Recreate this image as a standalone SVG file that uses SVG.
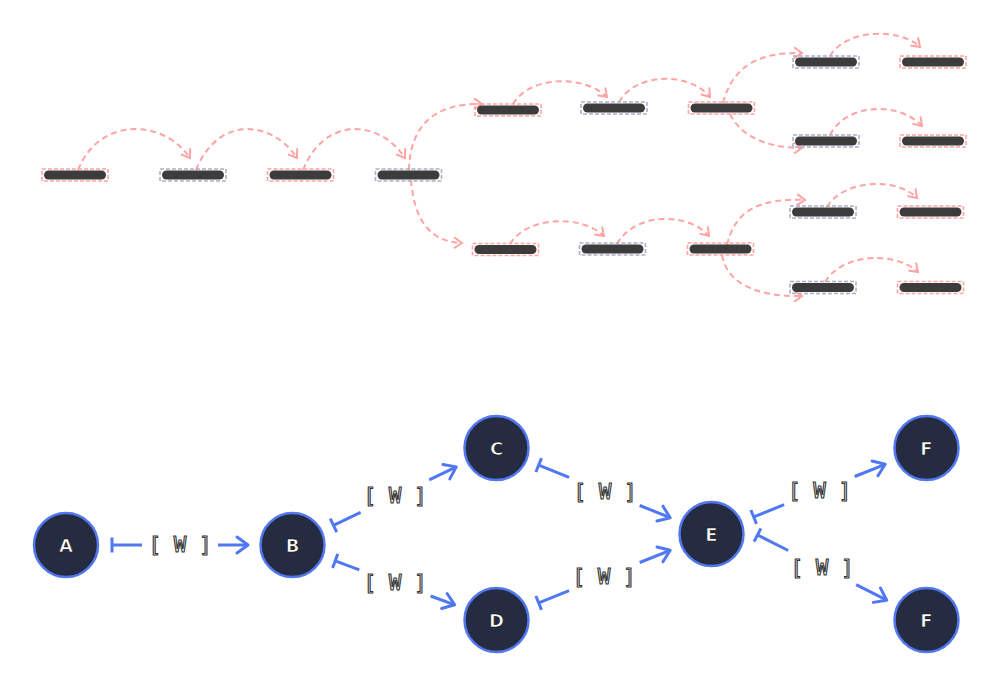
<svg xmlns="http://www.w3.org/2000/svg" width="1000" height="685" viewBox="0 0 1000 685">
<style>
.bar{fill:#3c3c3c}
.bo-r{fill:none;stroke:#ffa3a3;stroke-width:1.6;stroke-dasharray:4 2}
.bo-g{fill:none;stroke:#aab0c8;stroke-width:1.6;stroke-dasharray:4 2}
.lk{fill:none;stroke:#ffa3a3;stroke-width:2;stroke-dasharray:6 4;marker-end:url(#pa)}
.nd{fill:#252b40;stroke:#5277ee;stroke-width:2.5}
.nl{font-family:"DejaVu Sans",sans-serif;font-weight:bold;font-size:18px;fill:#fff;stroke:#111;stroke-width:0.7;text-anchor:middle;dominant-baseline:central}
.e{fill:none;stroke:#5078f2;stroke-width:3}
.lb{font-family:"DejaVu Sans Mono",monospace;font-size:21px;fill:#fff;stroke:#333;stroke-width:1.1;text-anchor:middle;dominant-baseline:central}
</style>
<defs>
<marker id="pa" markerUnits="userSpaceOnUse" markerWidth="20" markerHeight="20" refX="10" refY="10" orient="auto" overflow="visible">
<path d="M2,4.5 L10,10 L2,15.5" fill="none" stroke="#ffa3a3" stroke-width="2"/>
</marker>
<marker id="ba" markerUnits="userSpaceOnUse" markerWidth="24" markerHeight="24" refX="12" refY="12" orient="auto" overflow="visible">
<path d="M1,4 L12,12 L1,20" fill="none" stroke="#5078f2" stroke-width="3" stroke-linecap="round" stroke-linejoin="round"/>
</marker>
<marker id="bt" markerUnits="userSpaceOnUse" markerWidth="24" markerHeight="24" refX="12" refY="12" orient="auto" overflow="visible">
<path d="M12,4.5 L12,19.5" fill="none" stroke="#5078f2" stroke-width="3"/>
</marker>
</defs>
<rect width="1000" height="685" fill="#fff"/>

<g id="connectors-top">
<path class="lk" d="M78,170 C100,115 165,120 190,158"/>
<path class="lk" d="M196,170 C218,115 272,120 297,158"/>
<path class="lk" d="M303,170 C325,115 380,120 405,158"/>
<path class="lk" d="M409,170 C410,125 435,103 482,104"/>
<path class="lk" d="M411,180 C414,220 430,242 462,243"/>
<path class="lk" d="M513,104 C530,75 585,75 607,97"/>
<path class="lk" d="M619,102 C636,72 690,72 710,97"/>
<path class="lk" d="M723,103 C733,65 760,52 802,53"/>
<path class="lk" d="M730,114 C740,135 765,148 802,148"/>
<path class="lk" d="M830,56 C847,28 900,28 920,47"/>
<path class="lk" d="M830,135 C847,102 900,102 922,126"/>
<path class="lk" d="M510,244 C528,215 582,215 604,236"/>
<path class="lk" d="M617,244 C635,212 688,212 709,236"/>
<path class="lk" d="M727,245 C735,210 760,198 805,200"/>
<path class="lk" d="M722,255 C727,285 760,297 802,296"/>
<path class="lk" d="M827,207 C845,178 898,178 917,198"/>
<path class="lk" d="M825,282 C843,252 897,252 918,272"/>
</g>

<g id="bar1" transform="translate(75,175)"><rect class="bar" x="-31" y="-4.5" width="62" height="9" rx="4.5"/><rect class="bo-r" x="-33" y="-6" width="66" height="12"/></g>
<g id="bar2" transform="translate(193,175)"><rect class="bar" x="-31" y="-4.5" width="62" height="9" rx="4.5"/><rect class="bo-g" x="-33" y="-6" width="66" height="12"/></g>
<g id="bar3" transform="translate(300.5,175)"><rect class="bar" x="-31" y="-4.5" width="62" height="9" rx="4.5"/><rect class="bo-r" x="-33" y="-6" width="66" height="12"/></g>
<g id="bar4" transform="translate(408.5,175)"><rect class="bar" x="-31" y="-4.5" width="62" height="9" rx="4.5"/><rect class="bo-g" x="-33" y="-6" width="66" height="12"/></g>
<g id="bar5" transform="translate(508,110)"><rect class="bar" x="-31" y="-4.5" width="62" height="9" rx="4.5"/><rect class="bo-r" x="-33" y="-6" width="66" height="12"/></g>
<g id="bar6" transform="translate(614,108)"><rect class="bar" x="-31" y="-4.5" width="62" height="9" rx="4.5"/><rect class="bo-g" x="-33" y="-6" width="66" height="12"/></g>
<g id="bar7" transform="translate(721.5,108)"><rect class="bar" x="-31" y="-4.5" width="62" height="9" rx="4.5"/><rect class="bo-r" x="-33" y="-6" width="66" height="12"/></g>
<g id="bar8" transform="translate(826,62)"><rect class="bar" x="-31" y="-4.5" width="62" height="9" rx="4.5"/><rect class="bo-g" x="-33" y="-6" width="66" height="12"/></g>
<g id="bar9" transform="translate(933,62)"><rect class="bar" x="-31" y="-4.5" width="62" height="9" rx="4.5"/><rect class="bo-r" x="-33" y="-6" width="66" height="12"/></g>
<g id="bar10" transform="translate(826,141)"><rect class="bar" x="-31" y="-4.5" width="62" height="9" rx="4.5"/><rect class="bo-g" x="-33" y="-6" width="66" height="12"/></g>
<g id="bar11" transform="translate(933,141)"><rect class="bar" x="-31" y="-4.5" width="62" height="9" rx="4.5"/><rect class="bo-r" x="-33" y="-6" width="66" height="12"/></g>
<g id="bar12" transform="translate(505.5,249.5)"><rect class="bar" x="-31" y="-4.5" width="62" height="9" rx="4.5"/><rect class="bo-r" x="-33" y="-6" width="66" height="12"/></g>
<g id="bar13" transform="translate(612.5,249)"><rect class="bar" x="-31" y="-4.5" width="62" height="9" rx="4.5"/><rect class="bo-g" x="-33" y="-6" width="66" height="12"/></g>
<g id="bar14" transform="translate(720.5,249)"><rect class="bar" x="-31" y="-4.5" width="62" height="9" rx="4.5"/><rect class="bo-r" x="-33" y="-6" width="66" height="12"/></g>
<g id="bar15" transform="translate(823,212)"><rect class="bar" x="-31" y="-4.5" width="62" height="9" rx="4.5"/><rect class="bo-g" x="-33" y="-6" width="66" height="12"/></g>
<g id="bar16" transform="translate(930.5,212)"><rect class="bar" x="-31" y="-4.5" width="62" height="9" rx="4.5"/><rect class="bo-r" x="-33" y="-6" width="66" height="12"/></g>
<g id="bar17" transform="translate(823,287.5)"><rect class="bar" x="-31" y="-4.5" width="62" height="9" rx="4.5"/><rect class="bo-g" x="-33" y="-6" width="66" height="12"/></g>
<g id="bar18" transform="translate(930.5,287.5)"><rect class="bar" x="-31" y="-4.5" width="62" height="9" rx="4.5"/><rect class="bo-r" x="-33" y="-6" width="66" height="12"/></g>

<g id="connectors">
<path class="e" d="M112,545 L142,545" marker-start="url(#bt)"/>
<path class="e" d="M218,545 L248,545" marker-end="url(#ba)"/>
<text class="lb" x="180" y="545">[ W ]</text>

<path class="e" d="M333.5,525.3 L360.6,512.4" marker-start="url(#bt)"/>
<path class="e" d="M429.2,479.8 L456.3,466.9" marker-end="url(#ba)"/>
<text class="lb" x="395" y="496">[ W ]</text>

<path class="e" d="M335.2,560.9 L359.3,569.8" marker-start="url(#bt)"/>
<path class="e" d="M430.6,596.0 L454.7,604.8" marker-end="url(#ba)"/>
<text class="lb" x="395" y="582.5">[ W ]</text>

<path class="e" d="M538.7,465.1 L569.1,477.3" marker-start="url(#bt)"/>
<path class="e" d="M639.7,505.5 L670.2,517.7" marker-end="url(#ba)"/>
<text class="lb" x="605" y="492">[ W ]</text>

<path class="e" d="M538.7,602.9 L569.1,590.7" marker-start="url(#bt)"/>
<path class="e" d="M639.7,562.5 L670.2,550.3" marker-end="url(#ba)"/>
<text class="lb" x="604" y="577">[ W ]</text>

<path class="e" d="M753.7,516.9 L784.1,504.7" marker-start="url(#bt)"/>
<path class="e" d="M854.7,476.5 L885.2,464.3" marker-end="url(#ba)"/>
<text class="lb" x="819.5" y="491">[ W ]</text>

<path class="e" d="M757.5,535 L788.2,550.5" marker-start="url(#bt)"/>
<path class="e" d="M856.1,584.7 L886.7,600.2" marker-end="url(#ba)"/>
<text class="lb" x="822" y="567.5">[ W ]</text>
</g>

<g id="node-A"><circle class="nd" cx="66" cy="545" r="32"/><text class="nl" x="66" y="545">A</text></g>
<g id="node-B"><circle class="nd" cx="292.5" cy="545" r="32"/><text class="nl" x="292.5" y="545">B</text></g>
<g id="node-C"><circle class="nd" cx="496.5" cy="448" r="32"/><text class="nl" x="496.5" y="448">C</text></g>
<g id="node-D"><circle class="nd" cx="496.5" cy="620" r="32"/><text class="nl" x="496.5" y="620">D</text></g>
<g id="node-E"><circle class="nd" cx="711.5" cy="534" r="32"/><text class="nl" x="711.5" y="534">E</text></g>
<g id="node-F1"><circle class="nd" cx="926.5" cy="448" r="32"/><text class="nl" x="926.5" y="448">F</text></g>
<g id="node-F2"><circle class="nd" cx="926.5" cy="620" r="32"/><text class="nl" x="926.5" y="620">F</text></g>
</svg>
